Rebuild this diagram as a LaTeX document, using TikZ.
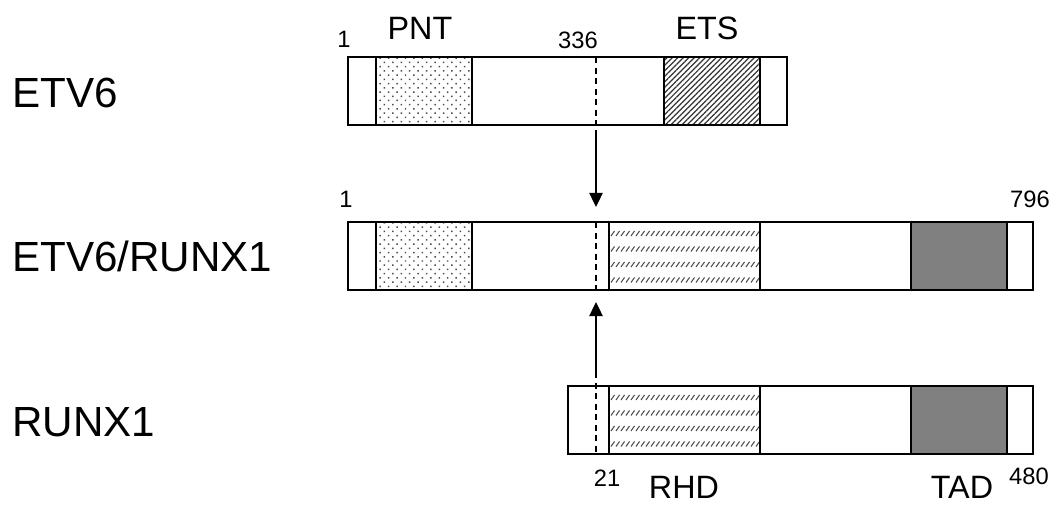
\documentclass[tikz,border=0pt]{standalone}
\usepackage{fontspec}
\setmainfont{Liberation Sans}
\usetikzlibrary{patterns,patterns.meta,arrows.meta}

\tikzset{
  bar/.style={line width=1.1pt},
  cutline/.style={line width=0.85pt, dash pattern=on 3.5pt off 2.5pt},
  fuse/.style={line width=1.1pt, -{Triangle[length=8pt,width=7.5pt]}},
  gene/.style={font=\fontsize{24}{28}\selectfont, anchor=base west, inner sep=0pt},
  domlabel/.style={font=\fontsize{18.4}{22}\selectfont, anchor=base, inner sep=0pt},
  aanum/.style={font=\fontsize{13.5}{15}\selectfont, anchor=base, inner sep=0pt},
  pnt/.style={pattern={Dots[angle=45,distance=3.4pt,radius=0.6pt]}, pattern color=black!70},
  ets/.style={pattern={Lines[angle=45,distance=2.2pt,line width=0.7pt]}, pattern color=black!80},
  rhd/.style={line width=0.6pt, black!70},
  tad/.style={fill=black!50},
}

\begin{document}
\begin{tikzpicture}[x=0.02cm, y=-0.02cm]
    \useasboundingbox (0,0) rectangle (1052,506);

    % Define corners of the three bars
    \coordinate (E1) at (348,57);
    \coordinate (E2) at (787,125);
    \coordinate (F1) at (348,222);
    \coordinate (F2) at (1033,290);
    \coordinate (R1) at (568,386);
    \coordinate (R2) at (1033,454);

    % Define points of the breakpoint line
    \coordinate (bkE) at (596,57);
    \coordinate (cutE) at (596,130);
    \coordinate (tipF) at (596,207);
    \coordinate (bkF) at (596,222);
    \coordinate (endF) at (596,293);
    \coordinate (tipR) at (596,302);
    \coordinate (cutR) at (596,372);
    \coordinate (endR) at (596,454);

    % Draw the three bars
    \draw[bar] (E1) rectangle (E2);
    \draw[bar] (F1) rectangle (F2);
    \draw[bar] (R1) rectangle (R2);

    % Draw PNT domains
    \draw[bar, pnt] (376,57) rectangle (472,125);
    \draw[bar, pnt] (376,222) rectangle (472,290);

    % Draw ETS domain
    \draw[bar, ets] (664,57) rectangle (760,125);

    % Draw RHD domains
    \foreach \top in {222,386} {
        \begin{scope}
            \clip (609,\top) rectangle (760,\top+68);
            \foreach \row in {0,...,4}
                \foreach \x in {611,616,...,758}
                    \draw[rhd] (\x,\top-4+\row*15.5+2.5) -- (\x+3.5,\top-4+\row*15.5-2.5);
        \end{scope}
        \draw[bar] (609,\top) rectangle (760,\top+68);
    }

    % Draw TAD domains
    \draw[bar, tad] (911,222) rectangle (1007,290);
    \draw[bar, tad] (911,386) rectangle (1007,454);

    % Draw breakpoint and arrows
    \draw[cutline] (bkE) -- (cutE);
    \draw[fuse] (cutE) -- (tipF);
    \draw[cutline] (bkF) -- (endF);
    \draw[fuse] (cutR) -- (tipR);
    \draw[cutline] (cutR) -- (endR);

    % Add gene labels
    \node[gene] (lblE) at (12,108) {ETV6};
    \node[gene] (lblF) at (12,272) {ETV6/RUNX1};
    \node[gene] (lblR) at (12,437) {RUNX1};

    % Add domain labels
    \node[domlabel] (pnt) at (420,40) {PNT};
    \node[domlabel] (ets) at (707,40) {ETS};
    \node[domlabel] (rhd) at (684,499) {RHD};
    \node[domlabel] (tad) at (962,499) {TAD};

    % Add positions
    \node[aanum] (posE1) at (344,48) {1};
    \node[aanum] (pos336) at (578,49) {336};
    \node[aanum] (posF1) at (346,208) {1};
    \node[aanum] (pos796) at (1030,208) {796};
    \node[aanum] (pos21) at (607,487) {21};
    \node[aanum] (pos480) at (1029,485) {480};

\end{tikzpicture}
\end{document}
